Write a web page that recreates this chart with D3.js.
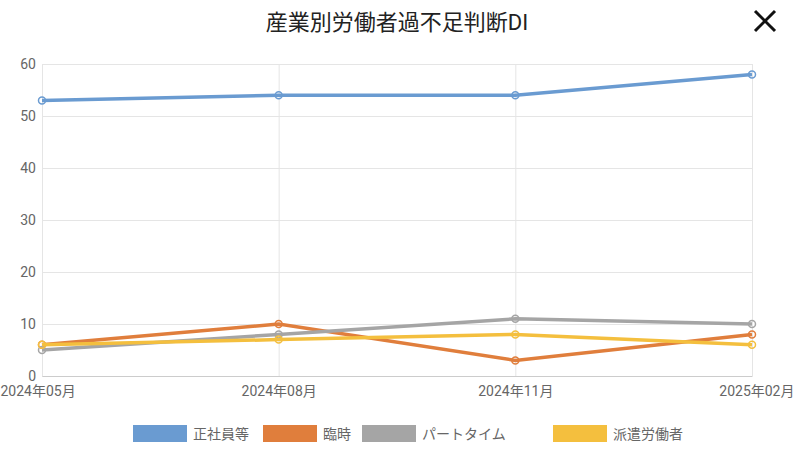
<!DOCTYPE html><html><head><meta charset="utf-8"><script src="https://cdn.jsdelivr.net/npm/d3@7"></script>
<style>body{margin:0;background:#fff;font-family:Roboto,"Noto Sans CJK JP",sans-serif}</style></head><body><svg id="c" width="794" height="453"></svg>
<script>
const categories=["2024年05月","2024年08月","2024年11月","2025年02月"];
const seriesNames=["正社員等","臨時","パートタイム","派遣労働者"];
const seriesColors=["#6a9bd1","#e07e3c","#a5a5a5","#f4bf3e"];
const seriesValues=[[53,54,54,58],[6,10,3,8],[5,8,11,10],[6,7,8,6]];
const yTicks=[0,10,20,30,40,50,60];
const svg=d3.select("#c");
const x=d3.scalePoint().domain(categories).range([42,752]);
const y=d3.scaleLinear().domain([0,60]).range([376,64]);
const f='Roboto,"Noto Sans CJK JP",sans-serif';
svg.append("text").attr("x",397).attr("y",30).attr("text-anchor","middle").attr("font-size",22).attr("fill","#222").attr("font-family",f).text("産業別労働者過不足判断DI");
svg.append("g").attr("stroke","#111").attr("stroke-width",3).selectAll("line").data([[755,11,775,31],[775,11,755,31]]).join("line").attr("x1",d=>d[0]).attr("y1",d=>d[1]).attr("x2",d=>d[2]).attr("y2",d=>d[3]);
const gy=svg.append("g").attr("transform","translate(42,0)").call(d3.axisLeft(y).tickValues(yTicks).tickSize(-710).tickSizeOuter(0));
gy.select(".domain").attr("stroke","#ccc");
gy.selectAll(".tick line").attr("stroke","#e5e5e5");
gy.selectAll("text").attr("font-size",14).attr("fill","#666").attr("font-family",f).attr("x",-6);
const gx=svg.append("g").attr("transform","translate(0,376)").call(d3.axisBottom(x).tickSize(-312).tickSizeOuter(0));
gx.select(".domain").attr("stroke","#ccc");
gx.selectAll(".tick line").attr("stroke","#e5e5e5");
gx.selectAll("text").attr("font-size",14).attr("fill","#666").attr("font-family",f).attr("dy","1.2em");
gx.selectAll(".tick text").attr("text-anchor",(d,i)=>i==0?"start":i==3?"end":"middle").attr("dx",(d,i)=>i==0?-42:i==3?42:0);
const line=d3.line().x((d,i)=>x(categories[i])).y(d=>y(d));
seriesValues.forEach((vals,s)=>{
 svg.append("path").datum(vals).attr("d",line).attr("fill","none").attr("stroke",seriesColors[s]).attr("stroke-width",3.5);
 svg.append("g").selectAll("circle").data(vals).join("circle").attr("cx",(d,i)=>x(categories[i])).attr("cy",d=>y(d)).attr("r",3.5).attr("fill","none").attr("stroke",seriesColors[s]).attr("stroke-width",1.5);
});
const lx=[133,263,362,553];
const lg=svg.append("g");
seriesNames.forEach((n,i)=>{
 lg.append("rect").attr("x",lx[i]).attr("y",425).attr("width",54).attr("height",17).attr("fill",seriesColors[i]);
 lg.append("text").attr("x",lx[i]+60).attr("y",439).attr("font-size",14).attr("fill","#666").attr("font-family",f).text(n);
});
</script></body></html>
